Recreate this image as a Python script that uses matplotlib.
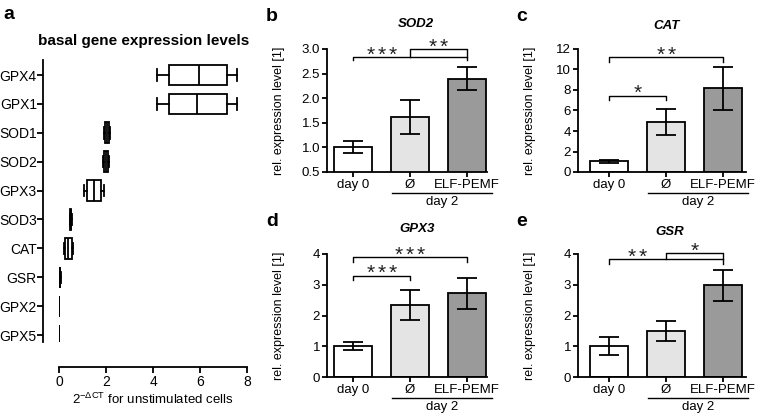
import matplotlib
matplotlib.use("Agg")
import matplotlib.pyplot as plt

plt.rcParams["font.family"] = ["Liberation Sans", "DejaVu Sans"]
plt.rcParams["axes.linewidth"] = 1.0

W, H = 760, 416

# panel a - basal expression, box stats
GENES = ["GPX4", "GPX1", "SOD1", "SOD2", "GPX3", "SOD3", "CAT", "GSR", "GPX2", "GPX5"]
WHIS_LO = [4.19, 4.19, 1.92, 1.89, 1.07, 0.46, 0.21, 0.02, 0.004, 0.0]
Q1 = [4.69, 4.66, 1.96, 1.93, 1.19, 0.48, 0.25, 0.03, 0.007, 0.002]
MED = [5.94, 5.88, 2.03, 2.00, 1.49, 0.50, 0.37, 0.04, 0.010, 0.004]
Q3 = [7.17, 7.13, 2.11, 2.08, 1.80, 0.52, 0.55, 0.05, 0.013, 0.006]
WHIS_HI = [7.58, 7.56, 2.15, 2.12, 1.92, 0.55, 0.60, 0.07, 0.016, 0.008]

# panels b-e - relative expression, mean and SD
GROUPS = ["day 0", "Ø", "ELF-PEMF"]
BAR_COLORS = ["white", "#e4e4e4", "#9a9a9a"]

SOD2_MEAN = [1.0, 1.62, 2.40]
SOD2_SD = [0.12, 0.35, 0.235]
CAT_MEAN = [1.05, 4.87, 8.17]
CAT_SD = [0.16, 1.29, 2.12]
GPX3_MEAN = [1.0, 2.34, 2.72]
GPX3_SD = [0.135, 0.48, 0.50]
GSR_MEAN = [1.0, 1.50, 2.98]
GSR_SD = [0.29, 0.33, 0.51]

# significance brackets: (from, to, line y, leg y, stars, label x)
SOD2_SIG = [(0, 2, 2.84, 2.78, 3, 0.5), (1, 2, 3.0, 2.84, 2, 1.5)]
CAT_SIG = [(0, 1, 7.45, 7.0, 1, 0.5), (0, 2, 11.2, 10.75, 2, 1.0)]
GPX3_SIG = [(0, 1, 3.29, 3.14, 3, 0.5), (0, 2, 3.89, 3.74, 3, 1.0)]
GSR_SIG = [(0, 2, 3.84, 3.68, 2, 0.5), (1, 2, 4.03, 3.84, 1, 1.5)]


def add_ax(fig, left, top, right, bottom):
    return fig.add_axes([left / W, 1 - bottom / H, (right - left) / W, (bottom - top) / H])


fig = plt.figure(figsize=(W / 100, H / 100), dpi=100)

# ---------- panel a ----------
ax = add_ax(fig, 59, 60, 247, 342)
pos = list(range(len(GENES) - 1, -1, -1))
stats = []
for i, g in enumerate(GENES):
    stats.append({"label": g, "whislo": WHIS_LO[i], "q1": Q1[i], "med": MED[i],
                  "q3": Q3[i], "whishi": WHIS_HI[i]})
lp = dict(color="black", linewidth=1.3)
ax.bxp(stats, positions=pos, widths=0.72, orientation="horizontal", showfliers=False,
       patch_artist=True, capwidths=0.4,
       boxprops=dict(facecolor="white", edgecolor="black", linewidth=1.3),
       medianprops=lp, whiskerprops=lp, capprops=lp)
ax.set_xlim(0, 8)
ax.set_ylim(-0.24, 9.52)
ax.set_xticks([0, 2, 4, 6, 8])
ax.set_yticks(pos)
ax.set_yticklabels(GENES, fontstyle="italic", fontsize=8.5)
for s in ["top", "right"]:
    ax.spines[s].set_visible(False)
ax.spines["left"].set_position(("outward", 11.5))
ax.spines["bottom"].set_position(("outward", 18))
ax.spines["bottom"].set_bounds(0, 8)
ax.spines["left"].set_linewidth(1.3)
ax.spines["bottom"].set_linewidth(1.3)
ax.tick_params(axis="y", length=4, width=1.3, pad=0.5)
ax.tick_params(axis="x", length=4, width=1.3, pad=2, labelsize=10)
ax.set_xlabel(r"2$^{\mathregular{-\Delta CT}}$ for unstimulated cells", fontsize=9.5, labelpad=2)
fig.text(144 / W, 1 - 45 / H, "basal gene expression levels", fontsize=11, fontweight="bold",
         ha="center", va="baseline")
fig.text(3 / W, 1 - 19 / H, "a", fontsize=14, fontweight="bold", va="baseline")


# ---------- bar panels ----------
def bar_panel(left, top, bottom, xlim, ylim, yticks, fmt, means, sds, sig, title,
              title_x, title_y, letter, letter_x, letter_y):
    right = left + (xlim[1] - xlim[0]) * 57.0
    ax = add_ax(fig, left, top, right, bottom)
    x = list(range(len(GROUPS)))
    ax.bar(x, means, width=0.667, color=BAR_COLORS, edgecolor="black", linewidth=1.3, zorder=2)
    ax.errorbar(x, means, yerr=sds, fmt="none", ecolor="black", elinewidth=1.3,
                capsize=7.5, capthick=1.3, zorder=3)
    ax.set_xlim(*xlim)
    ax.set_ylim(*ylim)
    ax.set_yticks(yticks)
    ax.set_yticklabels([fmt.format(v) for v in yticks])
    ax.set_xticks(x)
    ax.set_xticklabels(GROUPS)
    for s in ["top", "right"]:
        ax.spines[s].set_visible(False)
    ax.spines["left"].set_linewidth(1.3)
    ax.spines["bottom"].set_linewidth(1.3)
    ax.tick_params(axis="both", length=3.5, width=1.3, labelsize=9.5, pad=1.5)
    ax.set_ylabel("rel. expression level [1]", fontsize=9)
    h = bottom - top
    ax.yaxis.set_label_coords(-42 / (right - left), 0.5)
    # day 2 underline
    tr = ax.get_xaxis_transform()
    ax.plot([0.68, 2.44], [-21 / h, -21 / h], color="black", lw=1.0, transform=tr, clip_on=False)
    ax.text(1.56, -30 / h, "day 2", transform=tr, ha="center", va="center", fontsize=9.5)
    # significance brackets, stars spaced like the original
    for a, b, yl, yleg, n, lx in sig:
        ax.plot([a, a, b, b], [yleg, yl, yl, yleg], color="black", lw=1.0, clip_on=False)
        for k in range(n):
            dx = (k - (n - 1) / 2) * 7.9
            ax.annotate("*", (lx, yl), xytext=(dx, -2.5), textcoords="offset points",
                        ha="center", va="baseline", fontsize=15, color="#222222",
                        annotation_clip=False)
    fig.text(title_x / W, 1 - title_y / H, title, fontsize=9.5, fontweight="bold",
             fontstyle="italic", ha="center", va="baseline")
    fig.text(letter_x / W, 1 - letter_y / H, letter, fontsize=14, fontweight="bold",
             va="baseline")
    return ax


bar_panel(327, 49, 172, (-0.456, 2.35), (0.5, 3.0), [0.5, 1.0, 1.5, 2.0, 2.5, 3.0],
          "{:.1f}", SOD2_MEAN, SOD2_SD, SOD2_SIG, "SOD2", 416, 27, "b", 266, 21)
bar_panel(578, 49, 172, (-0.544, 2.4), (0, 12), [0, 2, 4, 6, 8, 10, 12],
          "{:d}", CAT_MEAN, CAT_SD, CAT_SIG, "CAT", 667, 29, "c", 516, 21)
bar_panel(327, 254, 377, (-0.456, 2.35), (0, 4), [0, 1, 2, 3, 4],
          "{:d}", GPX3_MEAN, GPX3_SD, GPX3_SIG, "GPX3", 417, 232, "d", 266, 226)
bar_panel(578, 254, 377, (-0.544, 2.4), (0, 4), [0, 1, 2, 3, 4],
          "{:d}", GSR_MEAN, GSR_SD, GSR_SIG, "GSR", 670, 235, "e", 516, 226)

fig.savefig("out.png", dpi=100)
